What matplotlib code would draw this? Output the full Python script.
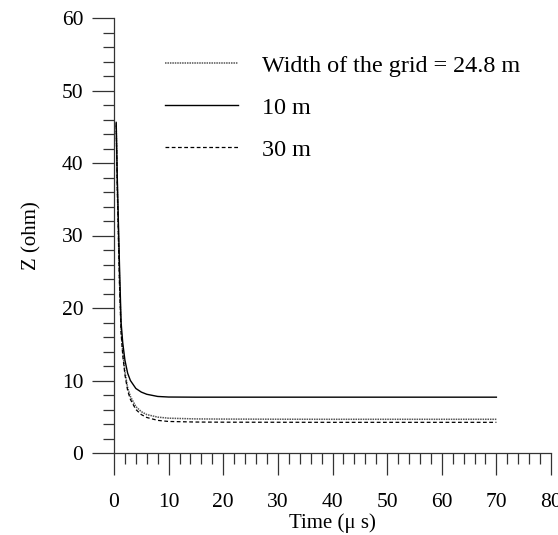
import numpy as np
import matplotlib
matplotlib.use('Agg')
import matplotlib.pyplot as plt
from matplotlib.ticker import MultipleLocator

plt.rcParams['font.family'] = ['Liberation Serif', 'DejaVu Serif']

# time in microseconds, impedance in ohm
time = [0.4, 0.6, 0.8, 1.0, 1.3, 1.6, 2.0, 2.5, 3.0, 4.0, 5.0, 6.0, 8.0, 10.0,
        15.0, 20.0, 30.0, 40.0, 50.0, 60.0, 70.0]
z_24_8 = [45.5, 37.0, 30.5, 24.0, 17.0, 14.0, 11.2, 9.0, 7.8, 6.4, 5.7, 5.3, 4.95, 4.8,
          4.7, 4.68, 4.66, 4.65, 4.65, 4.65, 4.65]
z_10 = [45.6, 38.0, 32.0, 26.0, 18.0, 15.2, 12.8, 11.0, 10.0, 8.9, 8.4, 8.1, 7.8, 7.72,
        7.7, 7.7, 7.7, 7.7, 7.7, 7.7, 7.7]
z_30 = [45.3, 36.5, 30.0, 23.5, 16.5, 13.5, 10.8, 8.6, 7.4, 6.0, 5.3, 4.9, 4.5, 4.35,
        4.27, 4.25, 4.24, 4.23, 4.23, 4.23, 4.23]

labels = ['Width of the grid = 24.8 m', '10 m', '30 m']

fig = plt.figure(figsize=(5.58, 5.35), dpi=100)
ax = fig.add_axes([114/558, 1-453/535, 437/558, 435/535])

ax.plot(time, z_24_8, color='#555555', lw=1.1, linestyle=(0, (1, 0.6)), label=labels[0])
ax.plot(time, z_10, color='black', lw=1.0, label=labels[1])
ax.plot(time, z_30, color='black', lw=0.9, linestyle=(0, (3, 2)), label=labels[2])

ax.set_xlim(0, 80)
ax.set_ylim(0, 60)
ax.xaxis.set_major_locator(MultipleLocator(10))
ax.xaxis.set_minor_locator(MultipleLocator(2))
ax.yaxis.set_major_locator(MultipleLocator(10))
ax.yaxis.set_minor_locator(MultipleLocator(2))

for s in ['top', 'right']:
    ax.spines[s].set_visible(False)
for s in ['left', 'bottom']:
    ax.spines[s].set_color('#333333')
    ax.spines[s].set_linewidth(0.9)

ax.tick_params(which='major', direction='out', length=16, width=0.9, color='#333333', labelsize=15.5)
ax.tick_params(which='minor', direction='out', length=8, width=0.9, color='#333333')
ax.tick_params(axis='y', which='major', pad=6)
ax.tick_params(axis='x', which='major', pad=13)

ax.set_xlabel('Time (\u03bc s)', fontsize=15, labelpad=1)
ax.set_ylabel('Z (ohm)', fontsize=15, labelpad=15)

ax.legend(loc='upper left', bbox_to_anchor=(165/558, 1-55/535), bbox_transform=fig.transFigure,
          frameon=False, fontsize=17.4, handlelength=3.0, handletextpad=1.0,
          labelspacing=0.83, borderpad=0, borderaxespad=0)

fig.savefig('out.png', dpi=100)
